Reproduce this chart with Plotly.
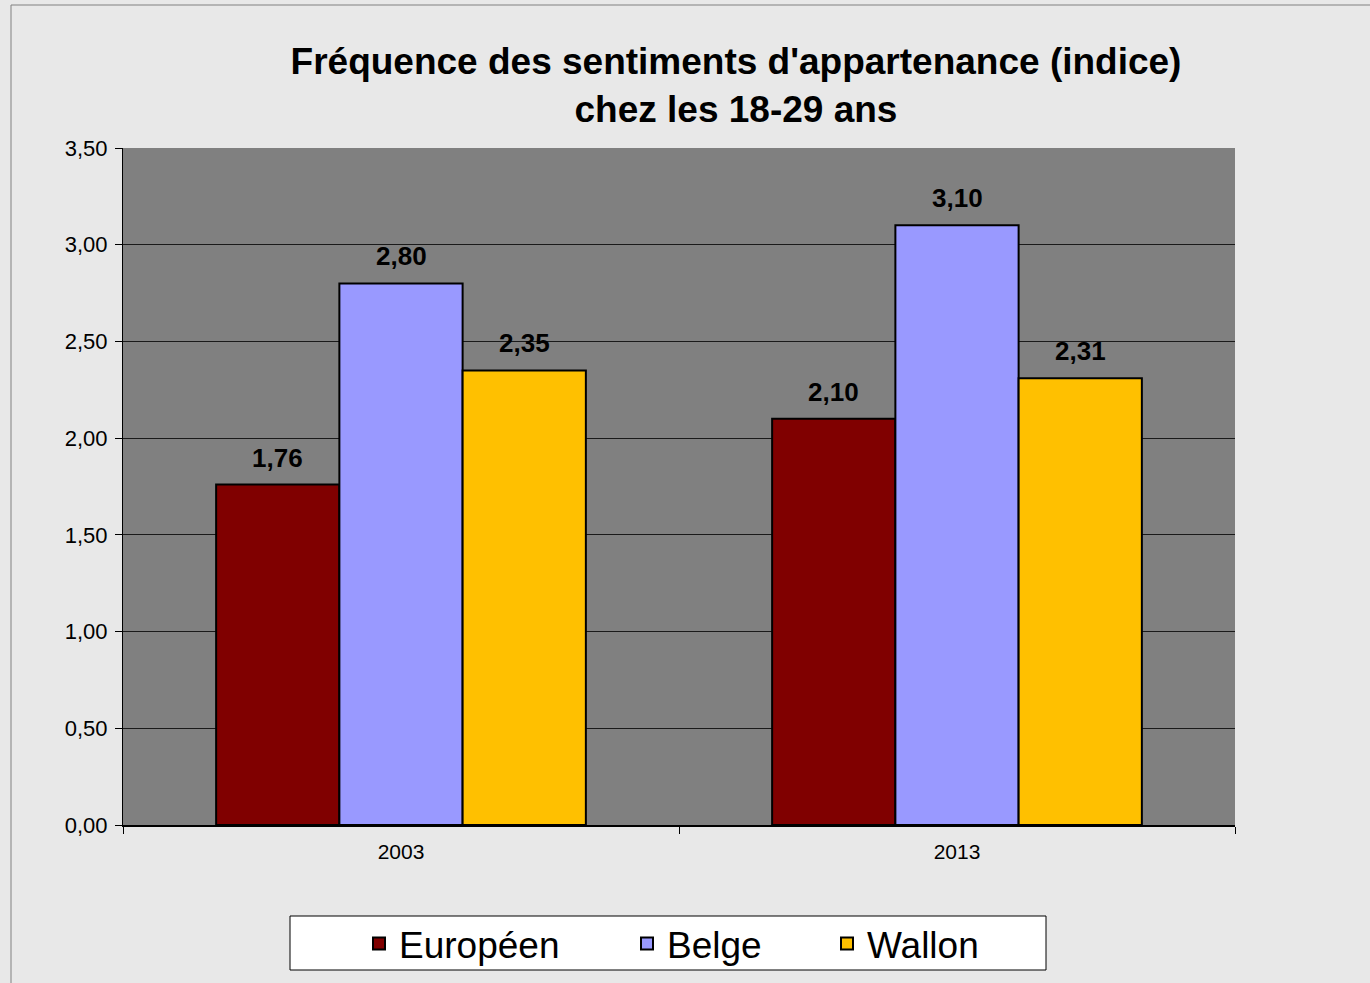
import plotly.graph_objects as go

years = ["2003", "2013"]
series_names = ["Européen", "Belge", "Wallon"]
europeen = [1.76, 2.10]
belge = [2.80, 3.10]
wallon = [2.35, 2.31]
colors = ["#800000", "#9999ff", "#ffc000"]
title_text = "Fréquence des sentiments d'appartenance (indice)<br>chez les 18-29 ans"

W, H = 1370, 983
ml, mr, mt, mb = 123, 135, 148, 158
bargap = 0.335
plot_w = W - ml - mr
plot_h = H - mt - mb

fig = go.Figure()
values = [europeen, belge, wallon]
legends = ["legend", "legend2", "legend3"]
for name, vals, col, lg in zip(series_names, values, colors, legends):
    fig.add_trace(go.Bar(
        x=years, y=vals, name=name, legend=lg,
        marker=dict(color=col, line=dict(color="black", width=2)),
        hoverinfo="x+y",
    ))

# data labels above each bar (x given as category index)
cat_w = plot_w / len(years)
bar_w = cat_w * (1 - bargap) / len(series_names)
annotations = []
for j, vals in enumerate(values):
    for i, v in enumerate(vals):
        annotations.append(dict(
            x=i, y=v, xref="x", yref="y",
            text=f"{v:.2f}".replace(".", ","),
            showarrow=False, xshift=(j - 1) * bar_w, yshift=27,
            yanchor="middle",
            font=dict(family="Liberation Sans, Arial, sans-serif", size=26, color="black", weight="bold"),
        ))

def px_to_x(px):
    return (px - ml) / plot_w

def py_to_y(py):
    return (H - mb - py) / plot_h

legend_font = dict(family="Liberation Sans, Arial, sans-serif", size=37, color="black")
leg_common = dict(orientation="h", xanchor="left", yanchor="middle", y=py_to_y(944),
                  bgcolor="rgba(0,0,0,0)", borderwidth=0, font=legend_font,
                  itemclick=False, itemdoubleclick=False)

fig.update_layout(
    width=W, height=H,
    margin=dict(l=ml, r=mr, t=mt, b=mb, autoexpand=False),
    paper_bgcolor="#e8e8e8",
    plot_bgcolor="#808080",
    separators=",.",
    barmode="group",
    bargap=bargap,
    bargroupgap=0,
    title=dict(
        text=title_text, x=736 / W, xanchor="center", y=1 - 74 / H, yanchor="middle",
        font=dict(family="Liberation Sans, Arial, sans-serif", size=37, color="black", weight="bold"),
    ),
    font=dict(family="Liberation Sans, Arial, sans-serif", color="black"),
    xaxis=dict(
        type="category", range=[-0.5, len(years) - 0.5], tickson="boundaries",
        ticks="outside", ticklen=7, tickcolor="black", tickangle=0, ticklabelstandoff=7,
        showline=True, linecolor="black", linewidth=2, showgrid=False,
        tickfont=dict(size=21, color="black"),
    ),
    yaxis=dict(
        range=[0, 3.5], dtick=0.5, tickformat=".2f", ticks="outside", ticklen=7, tickcolor="black",
        ticklabelstandoff=3,
        showline=True, linecolor="black", linewidth=1, showgrid=True, gridcolor="#1a1a1a", gridwidth=1,
        tickfont=dict(size=22, color="black"), zeroline=False,
    ),
    legend=dict(x=px_to_x(359), **leg_common),
    legend2=dict(x=px_to_x(627), **leg_common),
    legend3=dict(x=px_to_x(827), **leg_common),
    annotations=annotations,
    shapes=[
        # legend box
        dict(type="rect", xref="paper", yref="paper",
             x0=px_to_x(290), x1=px_to_x(1046), y0=py_to_y(970), y1=py_to_y(916),
             fillcolor="white", line=dict(color="black", width=1), layer="below"),
        # outer chart border (left and top)
        dict(type="rect", xref="paper", yref="paper",
             x0=px_to_x(11), x1=px_to_x(1400), y0=py_to_y(1000), y1=py_to_y(5),
             fillcolor="rgba(0,0,0,0)", line=dict(color="#808080", width=1), layer="below"),
    ],
    showlegend=True,
)

fig.write_html("out.html", config={"displayModeBar": False},
               post_script="document.body.style.margin='0';document.body.style.overflow='hidden';")
